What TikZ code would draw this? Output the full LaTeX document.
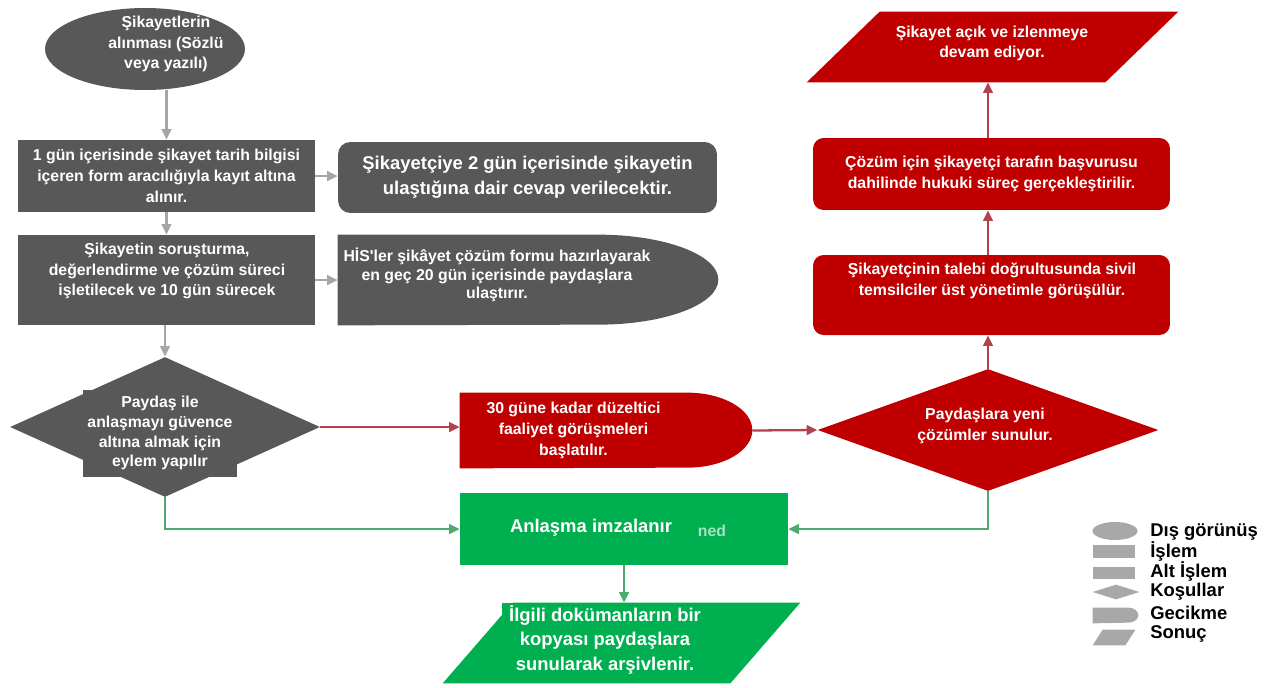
\documentclass[tikz,border=0pt]{standalone}
\usepackage{fontspec}
\setmainfont{Liberation Sans}
\usetikzlibrary{shapes.geometric, arrows.meta}

\definecolor{boxgray}{HTML}{585858}
\definecolor{boxred}{HTML}{C00000}
\definecolor{boxgreen}{HTML}{00B050}
\definecolor{linegray}{HTML}{A6A6A6}
\definecolor{linered}{HTML}{B3424E}
\definecolor{linegreen}{HTML}{4DAA6E}
\definecolor{keygray}{HTML}{A8A8A8}

\begin{document}
\begin{tikzpicture}[
    x=0.02cm, y=-0.02cm,
    txt/.style={font=\bfseries\fontsize{9}{11.8}\selectfont, text=white, align=center, inner sep=0pt},
    bigtxt/.style={font=\bfseries\fontsize{10.5}{14}\selectfont, text=white, align=center, inner sep=0pt},
    frame/.style={rectangle, inner sep=0pt},
    proc/.style={frame, fill=boxgray},
    redproc/.style={frame, fill=boxred, rounded corners=6pt},
    outer/.style={ellipse, fill=boxgray, inner sep=0pt},
    decision/.style={diamond, inner sep=0pt},
    arrow/.style={-{Triangle[length=6pt,width=5.5pt]}, line width=1.3pt},
    keytxt/.style={font=\bfseries\fontsize{10.5}{12}\selectfont, anchor=west, inner sep=0pt}
]
    \fill[white] (0,0) rectangle (1271,687);
    \useasboundingbox (0,0) rectangle (1271,687);
    % Start
    \node[outer, minimum width=4cm, minimum height=1.64cm] (recv) at (145,49) {};
    \node[txt] (recvtxt) at (166,44) {Şikayetlerin\\alınması (Sözlü\\veya yazılı)};
    % Gray column
    \node[proc, txt, minimum width=5.94cm, minimum height=1.44cm] (form) at (166.5,176) {1 gün içerisinde şikayet tarih bilgisi\\içeren form aracılığıyla kayıt altına\\alınır.};
    \node[proc, minimum width=5.94cm, minimum height=1.8cm] (probe) at (166.5,280) {};
    \node[txt] (probetxt) at (167,271) {Şikayetin soruşturma,\\değerlendirme ve çözüm süreci\\işletilecek ve 10 gün sürecek};
    \node[frame, fill=boxgray, rounded corners=7pt, bigtxt, minimum width=7.58cm, minimum height=1.42cm] (reply) at (527.5,177.5) {Şikayetçiye 2 gün içerisinde şikayetin\\ulaştığına dair cevap verilecektir.};
    % Gray delay
    \node[frame, minimum width=7.6cm, minimum height=1.8cm] (his) at (528,280) {};
    \fill[boxgray] (his.north west) -- ([xshift=-2.4cm]his.north east) arc[start angle=90, end angle=-90, x radius=2.4cm, y radius=0.9cm] -- (his.south west) -- cycle;
    \node[txt, font=\bfseries\fontsize{9}{10.4}\selectfont] (histxt) at (497,275) {H\.IS\textquotesingle ler şikâyet çözüm formu hazırlayarak\\en geç 20 gün içerisinde paydaşlara\\ulaştırır.};
    % Gray decision
    \node[decision, fill=boxgray, minimum width=6.2cm, minimum height=2.8cm] (cond) at (165,427) {};
    \node[txt, fill=boxgray, minimum width=3.1cm, minimum height=1.74cm, font=\bfseries\fontsize{9}{11.3}\selectfont] (condtxt) at (160,433) {Paydaş ile\\anlaşmayı güvence\\altına almak için\\eylem yapılır};
    % Red delay
    \node[frame, minimum width=5.84cm, minimum height=1.5cm] (fix) at (606,430.5) {};
    \fill[boxred] (fix.north west) -- ([xshift=-1.3cm]fix.north east) arc[start angle=90, end angle=-90, x radius=1.3cm, y radius=0.75cm] -- (fix.south west) -- cycle;
    \node[txt, fill=boxred, minimum width=4.54cm, minimum height=1.38cm] (fixtxt) at (573.5,430.5) {30 güne kadar düzeltici\\faaliyet görüşmeleri\\başlatılır.};
    % Red column
    \node[decision, fill=boxred, minimum width=6.82cm, minimum height=2.44cm] (newsol) at (988,430) {};
    \node[txt] (newsoltxt) at (985,426) {Paydaşlara yeni\\çözümler sunulur.};
    \node[redproc, minimum width=7.14cm, minimum height=1.6cm] (talk) at (991.5,295) {};
    \node[txt] (talktxt) at (992,281) {Şikayetçinin talebi doğrultusunda sivil\\temsilciler üst yönetimle görüşülür.};
    \node[redproc, txt, minimum width=7.14cm, minimum height=1.44cm] (legal) at (991.5,174) {Çözüm için şikayetçi tarafın başvurusu\\dahilinde hukuki süreç gerçekleştirilir.};
    \node[frame, minimum width=7.42cm, minimum height=1.4cm] (open) at (992.5,47) {};
    \fill[boxred] (open.south west) -- ([xshift=1.46cm]open.north west) -- (open.north east) -- ([xshift=-1.46cm]open.south east) -- cycle;
    \node[txt, font=\bfseries\fontsize{9}{11.3}\selectfont] (opentxt) at (992,43) {Şikayet açık ve izlenmeye\\devam ediyor.};
    % Green
    \node[frame, fill=boxgreen, minimum width=6.56cm, minimum height=1.44cm] (sign) at (624,529) {};
    \node[bigtxt] (signtxt) at (591,528) {Anlaşma imzalanır};
    \node[txt, text=boxgreen!35!white] (signrest) at (712,531) {ned};
    \node[frame, minimum width=7.14cm, minimum height=1.6cm] (archive) at (621.5,643) {};
    \fill[boxgreen] (archive.south west) -- ([xshift=1.4cm]archive.north west) -- (archive.north east) -- ([xshift=-1.4cm]archive.south east) -- cycle;
    \node[bigtxt, fill=boxgreen, minimum width=4.12cm, minimum height=1.48cm, font=\bfseries\fontsize{10.5}{13.9}\selectfont] (archivetxt) at (605,640) {\.Ilgili dokümanların bir\\kopyası paydaşlara\\sunularak arşivlenir.};
    % Legend
    \node[outer, fill=keygray, minimum width=0.9cm, minimum height=0.36cm] (key1) at (1115,531) {};
    \node[frame, fill=keygray, minimum width=0.84cm, minimum height=0.26cm] (key2) at (1114,551) {};
    \node[frame, fill=keygray, minimum width=0.84cm, minimum height=0.24cm] (key3) at (1114,573) {};
    \node[decision, fill=keygray, minimum width=0.94cm, minimum height=0.3cm] (key4) at (1116,592) {};
    \node[frame, minimum width=0.9cm, minimum height=0.3cm] (key5) at (1115.5,615.5) {};
    \fill[keygray] (key5.north west) -- ([xshift=-0.2cm]key5.north east) arc[start angle=90, end angle=-90, x radius=0.2cm, y radius=0.15cm] -- (key5.south west) -- cycle;
    \node[frame, minimum width=0.84cm, minimum height=0.3cm] (key6) at (1114,637.5) {};
    \fill[keygray] (key6.south west) -- ([xshift=0.2cm]key6.north west) -- (key6.north east) -- ([xshift=-0.2cm]key6.south east) -- cycle;
    \node[keytxt] (lab1) at (1150,532) {Dış görünüş};
    \node[keytxt] (lab2) at (1150,552) {\.Işlem};
    \node[keytxt] (lab3) at (1150,572) {Alt \.Işlem};
    \node[keytxt] (lab4) at (1150,592) {Koşullar};
    \node[keytxt] (lab5) at (1150,613) {Gecikme};
    \node[keytxt] (lab6) at (1150,634) {Sonuç};
    % Arrows
    \draw[arrow, linegray] (form.north |- recv.south) -- (form.north);
    \draw[arrow, linegray] (form.east) -- (form.east -| reply.west);
    \draw[arrow, linegray] (form.south) -- (probe.north);
    \draw[arrow, linegray] (probe.east) -- (his.west);
    \draw[arrow, linegray] (probe.south -| cond.north) -- (cond.north);
    \draw[arrow, linered] (cond.east) -- (cond.east -| fix.west);
    \draw[arrow, linered] (fix.east) -- (newsol.west);
    \draw[arrow, linered] (newsol.north) -- (newsol.north |- talk.south);
    \draw[arrow, linered] (newsol.north |- talk.north) -- (newsol.north |- legal.south);
    \draw[arrow, linered] (newsol.north |- legal.north) -- (newsol.north |- open.south);
    \draw[arrow, linegreen] (cond.south) |- (sign.west);
    \draw[arrow, linegreen] (newsol.south) |- (sign.east);
    \draw[arrow, linegreen] (sign.south) -- (sign.south |- archive.north);
\end{tikzpicture}
\end{document}
